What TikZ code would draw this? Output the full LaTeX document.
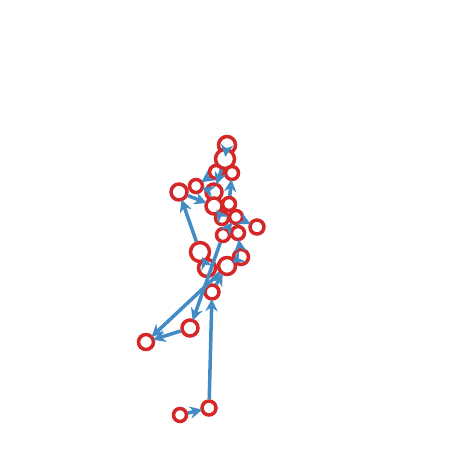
\documentclass[tikz,border=0pt]{standalone}
\usetikzlibrary{arrows.meta}
\definecolor{vred}{RGB}{214,39,40}
\definecolor{eblue}{RGB}{66,139,196}
\tikzset{
  vert/.style={circle,draw=vred,line width=2pt,fill=white,inner sep=0pt},
  edge/.style={draw=eblue,line width=2pt,-{Stealth[length=7pt,width=7pt]},shorten >=-1pt}
}
\begin{document}
\begin{tikzpicture}[x=0.02cm,y=-0.02cm]
\useasboundingbox (0,0) rectangle (462,462);
% vertices
\node[vert,minimum size=0.34cm] (v1) at (227,145) {};
\node[vert,minimum size=0.38cm] (v2) at (225,159) {};
\node[vert,minimum size=0.26cm] (v3) at (216,172) {};
\node[vert,minimum size=0.26cm] (v4) at (232,173) {};
\node[vert,minimum size=0.26cm] (v5) at (196,186) {};
\node[vert,minimum size=0.32cm] (v6) at (179,192) {};
\node[vert,minimum size=0.32cm] (v7) at (214,192) {};
\node[vert,minimum size=0.32cm] (v8) at (214,206) {};
\node[vert,minimum size=0.26cm] (v9) at (229,204) {};
\node[vert,minimum size=0.26cm] (v10) at (222,218) {};
\node[vert,minimum size=0.26cm] (v11) at (236,217) {};
\node[vert,minimum size=0.28cm] (v12) at (257,227) {};
\node[vert,minimum size=0.26cm] (v13) at (223,235) {};
\node[vert,minimum size=0.26cm] (v14) at (238,233) {};
\node[vert,minimum size=0.30cm] (v15) at (241,257) {};
\node[vert,minimum size=0.38cm] (v16) at (200,252) {};
\node[vert,minimum size=0.34cm] (v17) at (207,268) {};
\node[vert,minimum size=0.34cm] (v18) at (227,266) {};
\node[vert,minimum size=0.28cm] (v19) at (212,292) {};
\node[vert,minimum size=0.32cm] (v20) at (190,328) {};
\node[vert,minimum size=0.30cm] (v21) at (146,342) {};
\node[vert,minimum size=0.28cm] (v22) at (209,408) {};
\node[vert,minimum size=0.26cm] (v23) at (180,415) {};
% edges
\draw[edge] (v23) -- (v22);
\draw[edge] (v22) -- (v19);
\draw[edge] (v20) -- (v21);
\draw[edge] (v18) -- (v21);
\draw[edge] (v13) -- (v20);
\draw[edge] (v19) -- (v18);
\draw[edge] (v16) -- (v6);
\draw[edge] (v16) -- (v17);
\draw[edge] (v6) -- (v8);
\draw[edge] (v7) -- (v5);
\draw[edge] (v3) -- (v5);
\draw[edge] (v2) -- (v1);
\draw[edge] (v2) -- (v7);
\draw[edge] (v9) -- (v4);
\draw[edge] (v11) -- (v12);
\draw[edge] (v15) -- (v14);
\draw[edge] (v18) -- (v15);
\draw[edge] (v8) -- (v10);
\draw[edge] (v13) -- (v11);
\end{tikzpicture}
\end{document}
